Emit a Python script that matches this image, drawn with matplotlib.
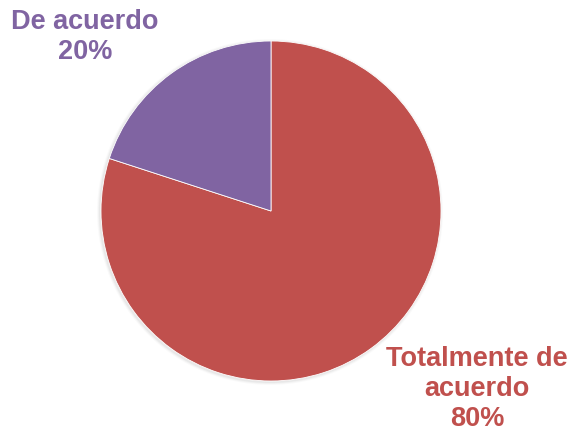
import matplotlib.pyplot as plt
from matplotlib.patches import Circle

labels = ['Totalmente de\nacuerdo', 'De acuerdo']
shares = [80, 20]
colors = ['#C0504D', '#8064A2']

fig = plt.figure(figsize=(5.69, 4.34), dpi=100)
ax = fig.add_axes([0, 0, 1, 1])

center = (271, 223)
radius = 170

# faint shadow under the pie
for i, a in enumerate([0.04, 0.03, 0.02]):
    ax.add_patch(Circle((center[0] - 1, center[1] - 1), radius + 1 + i,
                        color='black', alpha=a, lw=0, zorder=0))

ax.pie(shares, colors=colors, startangle=90, counterclock=False,
       center=center, radius=radius, frame=True,
       wedgeprops=dict(edgecolor='white', linewidth=0.6, zorder=2))
ax.set_xlim(0, 569)
ax.set_ylim(0, 434)
ax.set_aspect('equal')
ax.axis('off')

label_pos = [(477, 45), (85, 397)]
for lab, val, col, (x, y) in zip(labels, shares, colors, label_pos):
    ax.text(x, y, f'{lab}\n{val}%', color=col, ha='center', va='center',
            fontsize=19.5, fontweight='bold', family='Liberation Sans',
            linespacing=1.2)

fig.savefig('out.png', dpi=100)
